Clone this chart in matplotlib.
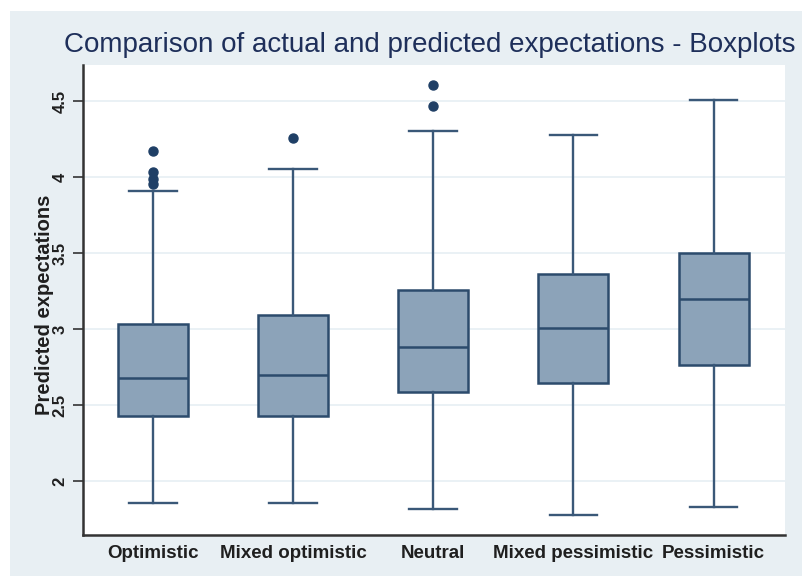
import matplotlib
matplotlib.use("Agg")
import matplotlib.pyplot as plt
from matplotlib.patches import Rectangle

# values
categories = ["Optimistic", "Mixed optimistic", "Neutral", "Mixed pessimistic", "Pessimistic"]
q1 = [2.43, 2.43, 2.585, 2.645, 2.765]
medians = [2.675, 2.695, 2.88, 3.005, 3.20]
q3 = [3.03, 3.09, 3.26, 3.36, 3.50]
whisker_low = [1.855, 1.855, 1.815, 1.775, 1.83]
whisker_high = [3.91, 4.055, 4.305, 4.275, 4.505]
outliers = [
    [4.17, 4.03, 3.99, 3.955],
    [4.255],
    [4.605, 4.465],
    [],
    [],
]
yticks = [2, 2.5, 3, 3.5, 4, 4.5]
yticklabels = ["2", "2.5", "3", "3.5", "4", "4.5"]

plt.rcParams['font.family'] = ['Liberation Sans', 'DejaVu Sans']

bg = '#e8eff3'
box_face = '#8ca3b9'
box_edge = '#2c4b6c'
line_col = '#3a5878'
text_col = '#1f1f1f'

W, H = 803, 576
fig = plt.figure(figsize=(W / 100, H / 100), dpi=100)
fig.patch.set_facecolor('white')
fig.patches.append(Rectangle((10 / W, 0), 1, (H - 11) / H, transform=fig.transFigure,
                             facecolor=bg, edgecolor='none', zorder=-10))

ax = fig.add_axes([83 / W, (H - 535) / H, (785 - 83) / W, (535 - 65) / H])
ax.set_facecolor('white')

stats = []
for i, name in enumerate(categories):
    stats.append(dict(label=name, q1=q1[i], med=medians[i], q3=q3[i],
                      whislo=whisker_low[i], whishi=whisker_high[i], fliers=outliers[i]))

positions = list(range(1, len(categories) + 1))
ax.bxp(stats, positions=positions, widths=0.5, capwidths=0.34, patch_artist=True,
       boxprops=dict(facecolor=box_face, edgecolor=box_edge, linewidth=1.8),
       medianprops=dict(color=box_edge, linewidth=1.8),
       whiskerprops=dict(color=line_col, linewidth=1.7),
       capprops=dict(color=line_col, linewidth=1.7),
       flierprops=dict(marker='o', markerfacecolor='#1f3f66', markeredgecolor='#1f3f66',
                       markersize=6.5))

ax.set_xlim(0.5, 5.51)
ax.set_ylim(1.645, 4.737)
ax.set_yticks(yticks)
ax.set_yticklabels(yticklabels, rotation=90, va='center', fontsize=12,
                   fontweight='bold', color=text_col)
ax.set_xticks(positions)
ax.set_xticklabels(categories, fontsize=13.5, fontweight='bold', color=text_col)
ax.tick_params(axis='x', length=0, pad=7)
ax.tick_params(axis='y', length=7, width=1.2, color='#333333', pad=4)
for y in yticks:
    ax.axhline(y, color='#e6eff3', linewidth=1.2, zorder=0)

for side in ['top', 'right']:
    ax.spines[side].set_visible(False)
for side in ['left', 'bottom']:
    ax.spines[side].set_color('#333333')
    ax.spines[side].set_linewidth(1.8)

# the label sits on top of the tick labels, as in the original
ax.set_ylabel("Predicted expectations", fontsize=14.5, fontweight='bold', color=text_col)
ax.yaxis.set_label_coords(-0.042, 0.49)

fig.text(64 / W, 1 - 45 / H, "Comparison of actual and predicted expectations - Boxplots",
         fontsize=20, color='#1e2f5a', va='center', ha='left')

fig.savefig('out.png', dpi=100)
